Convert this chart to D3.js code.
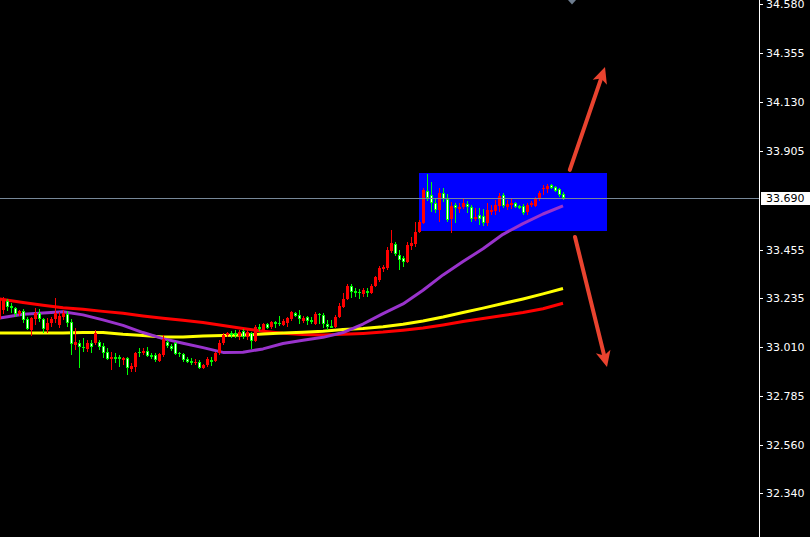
<!DOCTYPE html>
<html>
<head>
<meta charset="utf-8">
<script src="https://cdn.jsdelivr.net/npm/d3@7"></script>
<style>
html, body { margin: 0; padding: 0; background: #000; overflow: hidden; }
svg { display: block; }
</style>
</head>
<body>
<svg id="chart" width="810" height="537"></svg>
<script>
// Right-hand price scale labels
const priceTicks = [34.580, 34.355, 34.130, 33.905, 33.455, 33.235, 33.010, 32.785, 32.560, 32.340];
const lastPrice = 33.690;

// Bars: [open, high, low, close]; the first row is bar -1 (partly off-screen)
const firstBar = -1;
const ohlc = [
  [33.137,33.238,33.124,33.229],
  [33.178,33.238,33.160,33.224],
  [33.219,33.229,33.174,33.192],
  [33.198,33.210,33.165,33.187],
  [33.187,33.192,33.146,33.160],
  [33.160,33.178,33.151,33.174],
  [33.174,33.183,33.119,33.133],
  [33.137,33.146,33.087,33.091],
  [33.087,33.146,33.059,33.142],
  [33.137,33.187,33.110,33.165],
  [33.165,33.183,33.124,33.137],
  [33.137,33.142,33.073,33.091],
  [33.087,33.142,33.073,33.119],
  [33.119,33.146,33.100,33.137],
  [33.137,33.233,33.119,33.165],
  [33.110,33.169,33.096,33.151],
  [33.146,33.178,33.133,33.165],
  [33.160,33.174,33.100,33.119],
  [33.124,33.137,32.972,33.023],
  [33.018,33.096,32.995,33.032],
  [33.027,33.041,32.913,33.009],
  [33.009,33.050,32.986,33.004],
  [33.000,33.041,32.986,33.027],
  [33.027,33.041,32.981,33.009],
  [33.027,33.087,33.018,33.073],
  [33.032,33.041,32.995,33.009],
  [33.013,33.027,32.958,32.981],
  [32.986,33.004,32.949,32.954],
  [32.954,32.986,32.903,32.963],
  [32.963,32.981,32.935,32.954],
  [32.963,32.972,32.917,32.954],
  [32.949,32.963,32.926,32.958],
  [32.958,32.963,32.880,32.913],
  [32.908,32.935,32.894,32.922],
  [32.917,32.986,32.894,32.981],
  [32.986,33.004,32.963,32.981],
  [32.981,33.004,32.972,32.990],
  [32.990,33.009,32.963,32.968],
  [32.972,32.981,32.954,32.963],
  [32.972,32.981,32.940,32.949],
  [32.945,32.981,32.940,32.977],
  [32.972,33.064,32.963,33.046],
  [33.032,33.041,33.004,33.013],
  [33.013,33.023,32.990,33.000],
  [33.027,33.032,32.972,32.977],
  [32.981,32.986,32.963,32.977],
  [32.977,32.981,32.940,32.949],
  [32.954,32.963,32.935,32.940],
  [32.945,32.958,32.926,32.935],
  [32.935,32.954,32.926,32.940],
  [32.940,32.949,32.908,32.913],
  [32.913,32.931,32.908,32.926],
  [32.926,32.963,32.917,32.954],
  [32.949,32.963,32.922,32.940],
  [32.945,32.986,32.940,32.981],
  [32.981,33.041,32.972,33.027],
  [33.027,33.073,33.018,33.064],
  [33.064,33.078,33.055,33.073],
  [33.073,33.082,33.050,33.064],
  [33.073,33.087,33.050,33.064],
  [33.059,33.087,33.041,33.078],
  [33.082,33.091,33.046,33.055],
  [33.055,33.087,33.041,33.078],
  [33.073,33.078,33.000,33.036],
  [33.036,33.110,33.032,33.100],
  [33.100,33.114,33.082,33.091],
  [33.087,33.119,33.078,33.114],
  [33.114,33.119,33.091,33.096],
  [33.100,33.128,33.091,33.124],
  [33.124,33.128,33.096,33.114],
  [33.119,33.151,33.105,33.114],
  [33.110,33.137,33.105,33.128],
  [33.119,33.146,33.100,33.142],
  [33.137,33.174,33.128,33.169],
  [33.165,33.169,33.146,33.151],
  [33.156,33.178,33.114,33.137],
  [33.128,33.151,33.119,33.142],
  [33.146,33.151,33.110,33.128],
  [33.133,33.146,33.114,33.124],
  [33.114,33.169,33.110,33.160],
  [33.162,33.165,33.114,33.158],
  [33.156,33.165,33.096,33.114],
  [33.114,33.133,33.087,33.100],
  [33.103,33.133,33.096,33.098],
  [33.100,33.156,33.096,33.146],
  [33.146,33.210,33.142,33.197],
  [33.192,33.256,33.187,33.229],
  [33.229,33.297,33.224,33.288],
  [33.288,33.297,33.233,33.261],
  [33.265,33.279,33.238,33.256],
  [33.261,33.274,33.229,33.256],
  [33.252,33.279,33.238,33.270],
  [33.265,33.279,33.238,33.256],
  [33.256,33.297,33.252,33.288],
  [33.288,33.334,33.284,33.329],
  [33.316,33.380,33.307,33.371],
  [33.366,33.384,33.352,33.375],
  [33.371,33.467,33.362,33.453],
  [33.449,33.545,33.439,33.485],
  [33.481,33.490,33.426,33.435],
  [33.430,33.453,33.362,33.407],
  [33.417,33.426,33.375,33.398],
  [33.398,33.490,33.394,33.476],
  [33.472,33.513,33.453,33.485],
  [33.481,33.581,33.467,33.536],
  [33.536,33.591,33.531,33.581],
  [33.577,33.737,33.572,33.728],
  [33.723,33.801,33.678,33.691],
  [33.705,33.765,33.627,33.668],
  [33.668,33.691,33.623,33.636],
  [33.636,33.737,33.581,33.714],
  [33.714,33.737,33.673,33.687],
  [33.687,33.710,33.581,33.591],
  [33.595,33.673,33.531,33.655],
  [33.659,33.668,33.577,33.645],
  [33.641,33.668,33.623,33.650],
  [33.650,33.691,33.641,33.668],
  [33.664,33.678,33.623,33.650],
  [33.650,33.659,33.581,33.595],
  [33.595,33.645,33.586,33.604],
  [33.613,33.645,33.568,33.595],
  [33.609,33.641,33.563,33.577],
  [33.577,33.668,33.563,33.636],
  [33.627,33.659,33.613,33.636],
  [33.632,33.682,33.613,33.659],
  [33.655,33.714,33.627,33.700],
  [33.705,33.714,33.645,33.655],
  [33.650,33.682,33.636,33.664],
  [33.659,33.687,33.641,33.668],
  [33.668,33.673,33.645,33.650],
  [33.655,33.659,33.641,33.645],
  [33.655,33.664,33.613,33.623],
  [33.627,33.668,33.613,33.659],
  [33.659,33.678,33.650,33.668],
  [33.655,33.696,33.650,33.687],
  [33.687,33.723,33.678,33.714],
  [33.733,33.751,33.705,33.737],
  [33.733,33.756,33.714,33.746],
  [33.751,33.756,33.733,33.737],
  [33.742,33.746,33.719,33.723],
  [33.733,33.737,33.696,33.705],
  [33.710,33.719,33.682,33.690]
];

// Moving averages, sampled at these bar numbers
const maBars = [-1, 0, 5, 10, 15, 20, 25, 30, 35, 40, 45, 50, 55, 60, 65, 70,
                75, 80, 85, 90, 95, 100, 105, 110, 115, 120, 125, 130, 135, 140];
const maSlow = [33.229, 33.226, 33.213, 33.200, 33.189, 33.182, 33.172, 33.163, 33.151, 33.140,
                33.131, 33.121, 33.107, 33.094, 33.081, 33.072, 33.066, 33.064, 33.067, 33.071,
                33.077, 33.086, 33.096, 33.110, 33.126, 33.139, 33.153, 33.167, 33.184, 33.209];
const maMid  = [33.073, 33.073, 33.073, 33.073, 33.073, 33.075, 33.075, 33.067, 33.062, 33.055,
                33.055, 33.059, 33.062, 33.064, 33.068, 33.073, 33.076, 33.081, 33.089, 33.094,
                33.102, 33.113, 33.128, 33.146, 33.167, 33.187, 33.208, 33.229, 33.252, 33.277];
const maFast = [33.141, 33.144, 33.159, 33.165, 33.170, 33.156, 33.133, 33.108, 33.075, 33.047,
                33.026, 33.006, 32.984, 32.985, 33.000, 33.025, 33.040, 33.053, 33.075, 33.114,
                33.162, 33.206, 33.269, 33.339, 33.400, 33.459, 33.525, 33.574, 33.618, 33.655];

// Consolidation zone and the two breakout arrows (bar, price)
const zone = { fromBar: 104, toBar: 151, top: 33.806, bottom: 33.538 };
const arrows = [
  { from: [141.7, 33.820], to: [150.5, 34.291] },
  { from: [143.0, 33.513], to: [151.0, 32.917] }
];
const shiftBar = 142.25;

const W = 810, H = 537, axisX = 759;
const svg = d3.select("#chart");

const x = d3.scaleLinear().domain([0, 140]).range([3, 563]);
const y = d3.scaleLinear().domain([32.340, 34.580]).range([493, 4]);

svg.append("rect").attr("width", W).attr("height", H).attr("fill", "#000");

svg.append("defs").append("clipPath").attr("id", "plot")
  .append("rect").attr("x", 0).attr("y", 0).attr("width", axisX).attr("height", H);

const plot = svg.append("g").attr("clip-path", "url(#plot)");

// blue consolidation box (background object)
plot.append("rect")
  .attr("x", x(zone.fromBar))
  .attr("y", y(zone.top))
  .attr("width", x(zone.toBar) - x(zone.fromBar))
  .attr("height", y(zone.bottom) - y(zone.top))
  .attr("fill", "#0000ff")
  .attr("shape-rendering", "crispEdges");

// moving averages
const maLine = d3.line().x((d, i) => x(maBars[i])).y(d => y(d));
[[maSlow, "#ff0000"], [maMid, "#ffff00"], [maFast, "#9933cc"]].forEach(([vals, col]) => {
  plot.append("path")
    .attr("d", maLine(vals))
    .attr("fill", "none")
    .attr("stroke", col)
    .attr("stroke-width", 3)
    .attr("stroke-linejoin", "round");
});

// candles: red = rising bar, green outline with white body = falling bar
const cg = plot.append("g").attr("shape-rendering", "crispEdges");
ohlc.forEach((d, i) => {
  const [o, h, l, c] = d;
  const bar = firstBar + i;
  const cx = Math.round(x(bar));
  const up = c >= o;
  const col = up ? "#ff0000" : "#00ff00";
  const yh = Math.round(y(h)), yl = Math.round(y(l));
  const yt = Math.round(y(Math.max(o, c))), yb = Math.round(y(Math.min(o, c)));
  cg.append("rect").attr("x", cx).attr("y", yh).attr("width", 1)
    .attr("height", Math.max(1, yl - yh)).attr("fill", col);
  const bh = Math.max(1, yb - yt);
  cg.append("rect").attr("x", cx - 1).attr("y", yt).attr("width", 3)
    .attr("height", bh).attr("fill", col);
  if (!up && bh >= 3) {
    cg.append("rect").attr("x", cx).attr("y", yt + 1).attr("width", 1)
      .attr("height", bh - 2).attr("fill", "#ffffff");
  }
});

// bid line
const yLast = Math.round(y(lastPrice)) + 0.5;
svg.append("line")
  .attr("x1", 0).attr("x2", axisX).attr("y1", yLast).attr("y2", yLast)
  .attr("stroke", "#778899").attr("stroke-width", 1);

// breakout arrows
const ag = svg.append("g");
arrows.forEach(a => {
  const x0 = x(a.from[0]), y0 = y(a.from[1]);
  const x1 = x(a.to[0]), y1 = y(a.to[1]);
  const dx = x1 - x0, dy = y1 - y0, len = Math.hypot(dx, dy);
  const ux = dx / len, uy = dy / len, px = -uy, py = ux;
  const headLen = 16, headHalf = 7.5;
  const bx = x1 - ux * headLen, by = y1 - uy * headLen;
  ag.append("line")
    .attr("x1", x0).attr("y1", y0)
    .attr("x2", x1 - ux * 10).attr("y2", y1 - uy * 10)
    .attr("stroke", "#e9432f").attr("stroke-width", 4).attr("stroke-linecap", "round");
  ag.append("path")
    .attr("d", `M${x1},${y1}L${bx + px * headHalf},${by + py * headHalf}L${bx + ux * 4},${by + uy * 4}L${bx - px * headHalf},${by - py * headHalf}Z`)
    .attr("fill", "#e9432f");
});

// chart shift marker at the top
const sx = Math.round(x(shiftBar));
svg.append("path")
  .attr("d", `M${sx - 4},0L${sx + 4},0L${sx},4.5Z`)
  .attr("fill", "#6e7d8f");

// price axis
svg.append("line")
  .attr("x1", axisX + 0.5).attr("x2", axisX + 0.5).attr("y1", 0).attr("y2", H)
  .attr("stroke", "#ffffff").attr("stroke-width", 1);

const axis = svg.append("g").attr("font-family", "DejaVu Sans, Tahoma, sans-serif")
  .attr("font-size", "11px");
priceTicks.forEach(t => {
  const ty = Math.round(y(t));
  axis.append("rect").attr("x", axisX + 1).attr("y", ty).attr("width", 3).attr("height", 1)
    .attr("fill", "#ffffff").attr("shape-rendering", "crispEdges");
  axis.append("text").attr("x", 766).attr("y", ty).attr("dy", "0.36em")
    .attr("fill", "#ffffff").text(t.toFixed(3));
});

// current price tag
axis.append("rect").attr("x", axisX + 2).attr("y", Math.round(y(lastPrice)) - 6)
  .attr("width", W - axisX - 2).attr("height", 13).attr("fill", "#ffffff")
  .attr("shape-rendering", "crispEdges");
axis.append("text").attr("x", 766).attr("y", Math.round(y(lastPrice)) + 0.5).attr("dy", "0.36em")
  .attr("fill", "#000000").text(lastPrice.toFixed(3));
</script>
</body>
</html>
